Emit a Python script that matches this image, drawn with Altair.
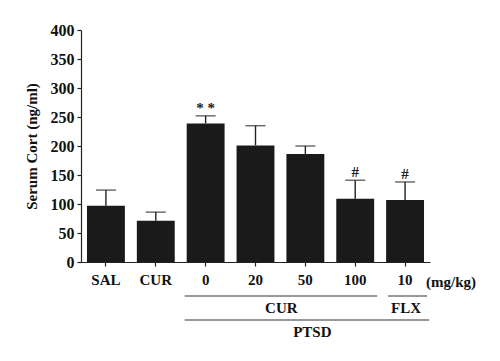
import altair as alt
import pandas as pd

groups = ["SAL", "CUR", "0", "20", "50", "100", "10"]
means = [97, 71, 239, 201, 186, 109, 107]
sds = [27, 15, 13, 34, 14, 32, 31]
marks = ["", "", "* *", "", "", "#", "#"]

df = pd.DataFrame({"g": groups, "mean": means, "sd": sds, "mark": marks})
df["top"] = df["mean"] + df["sd"]

FONT = "Liberation Serif"
xs = alt.Scale(domain=groups, paddingInner=0.24, paddingOuter=0.12)
ys = alt.Scale(domain=[0, 400], nice=False)
xaxis = alt.Axis(labelAngle=0, labelPadding=6, labelFontSize=15)
yaxis = alt.Axis(values=list(range(0, 401, 50)), titlePadding=11, labelPadding=3,
                 grid=False, labelOverlap=False, labelFontSize=16, titleFontSize=15)
YT = "Serum Cort (ng/ml)"

def X(f="g"):
    return alt.X(f"{f}:N", scale=xs, sort=groups, title=None, axis=xaxis)

def Y(f):
    return alt.Y(f"{f}:Q", scale=ys, title=YT, axis=yaxis)

base = alt.Chart(df)
bars = base.mark_bar(color="#1a1a1a").encode(x=X(), y=Y("mean"))
err = base.mark_rule(color="#222", strokeWidth=1.4).encode(
    x=X(), y=Y("mean"), y2="top:Q")
cap = base.mark_tick(color="#222", thickness=1.4, size=20, orient="horizontal").encode(
    x=X(), y=Y("top"))
ann = base.mark_text(font=FONT, fontSize=15, fontWeight="bold", color="#222",
                     baseline="bottom", dy=0).encode(
    x=X(), y=Y("top"), text="mark:N")

unit_df = pd.DataFrame({"g": ["10"], "t": ["(mg/kg)"]})
unit = alt.Chart(unit_df).mark_text(font=FONT, fontSize=15, fontWeight="bold",
                                    color="#111", xOffset=46, baseline="middle").encode(
    x=X(), y=alt.value(252), text="t:N")

lines_df = pd.DataFrame({
    "name": ["CUR", "FLX", "PTSD"],
    "start": ["0", "10", "0"],
    "end": ["100", "10", "10"],
})

def gline(name, y, o1, o2):
    d = lines_df[lines_df["name"] == name]
    return alt.Chart(d).mark_rule(color="#333", strokeWidth=1.2, xOffset=o1, x2Offset=o2).encode(
        x=X("start"), x2="end:N", y=alt.value(y))

l_cur = gline("CUR", 266, -21, 22)
l_flx = gline("FLX", 266, -17, 22)
l_ptsd = gline("PTSD", 290, -21, 24)

lab_df = pd.DataFrame({"t": ["CUR", "FLX", "PTSD"], "g": ["50", "10", "50"],
                       "off": [-24, 1, 7], "yy": [278, 278, 302]})
labs = []
for _, r in lab_df.iterrows():
    labs.append(alt.Chart(lab_df[lab_df["t"] == r["t"]]).mark_text(
        font=FONT, fontSize=15, fontWeight="bold", color="#111",
        xOffset=float(r["off"]), baseline="middle").encode(
        x=X(), y=alt.value(float(r["yy"])), text="t:N"))

chart = alt.layer(bars, err, cap, ann, unit, l_cur, l_flx, l_ptsd, *labs).properties(
    width=349, height=232,
    background="white",
    autosize=alt.AutoSizeParams(type="none"),
    padding={"left": 73, "top": 22, "right": 62, "bottom": 90},
).configure_view(stroke=None).configure_axis(
    labelFont=FONT, labelFontWeight="bold", labelColor="#111",
    titleFont=FONT, titleFontWeight="bold", titleColor="#111",
    tickSize=4, tickColor="#222", domainColor="#222", tickWidth=1.2, domainWidth=1.2,
)

chart.save("out.html", embed_options={"renderer": "svg", "actions": False})
